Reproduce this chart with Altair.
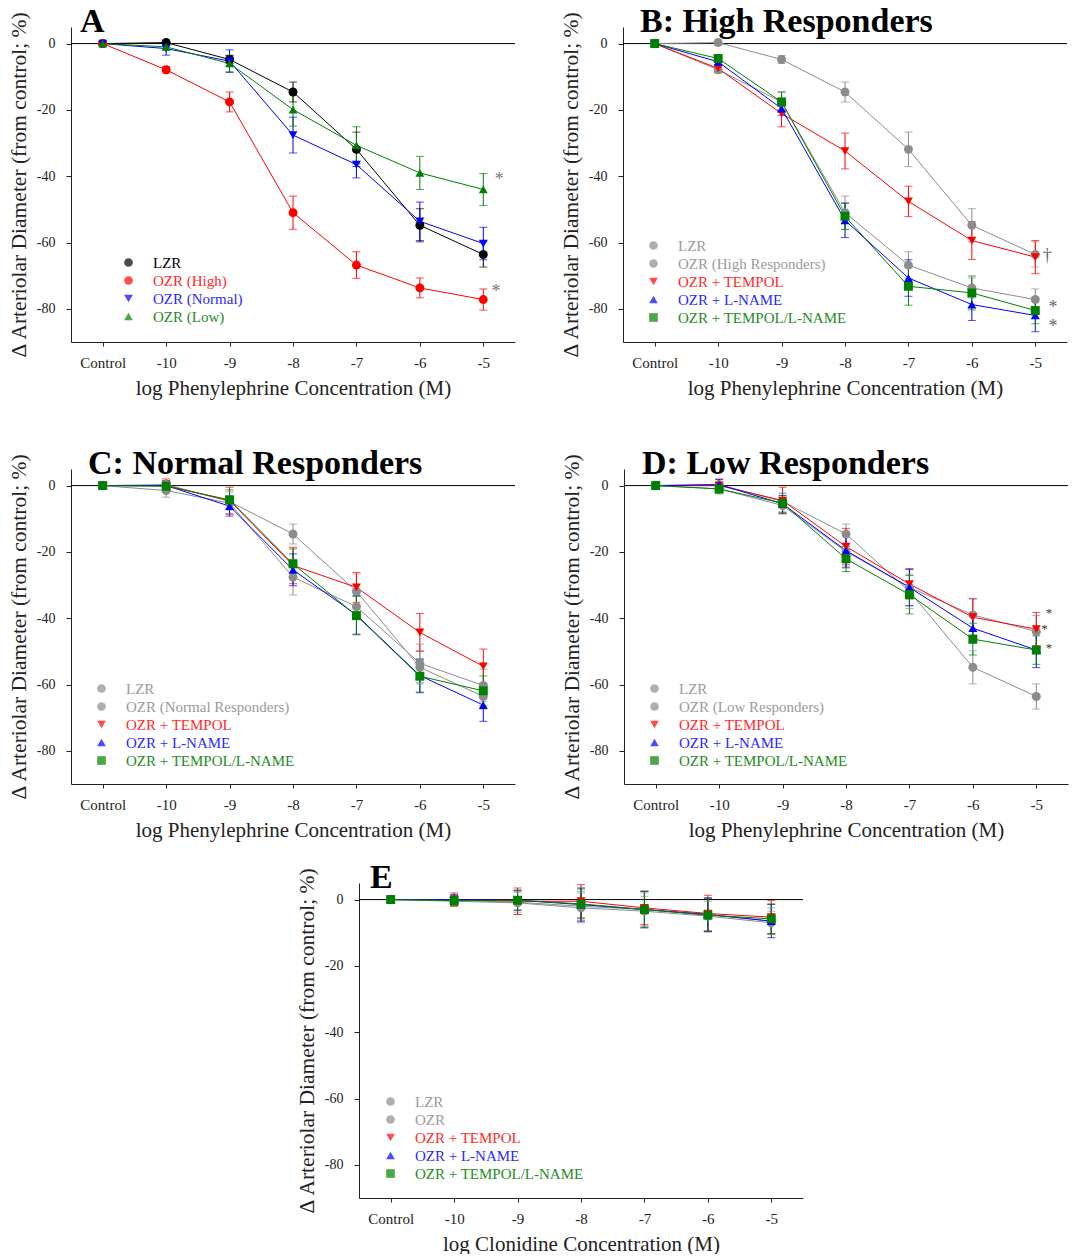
import altair as alt
import pandas as pd

# ---------------- data ----------------
X = [0, 1, 2, 3, 4, 5, 6]
X_LABELS = ["Control", "-10", "-9", "-8", "-7", "-6", "-5"]
Y_TICKS = [0, -20, -40, -60, -80]

# Panel A (also reused as reference curves in B-D)
LZR = [0, 0.3, -4.8, -14.6, -31.9, -54.8, -63.6]
LZR_ERR = [0.5, 0.8, 1.2, 3.0, 5.2, 5.0, 3.8]
OZR_HIGH = [0, -7.9, -17.6, -51.0, -66.8, -73.7, -77.2]
OZR_HIGH_ERR = [0.5, 1.0, 3.0, 5.0, 4.0, 3.0, 3.2]
OZR_NORMAL = [0, -1.5, -5.3, -27.6, -36.5, -53.6, -60.3]
OZR_NORMAL_ERR = [0.5, 2.0, 3.4, 5.4, 4.0, 5.8, 4.9]
OZR_LOW = [0, -1.0, -6.0, -19.9, -30.7, -39.0, -44.0]
OZR_LOW_ERR = [0.5, 1.0, 2.5, 5.0, 5.6, 5.0, 4.8]

# Panel B: high responders
B_TEMPOL = [0, -7.5, -21.1, -32.4, -47.6, -59.4, -64.4]
B_TEMPOL_ERR = [0.8, 1.2, 4.0, 5.4, 4.6, 5.7, 5.0]
B_LNAME = [0, -5.5, -19.6, -53.3, -70.7, -78.7, -82.0]
B_LNAME_ERR = [0.8, 1.0, 2.0, 5.2, 5.5, 4.8, 4.9]
B_TL = [0, -4.5, -17.6, -52.1, -73.2, -75.2, -80.5]
B_TL_ERR = [0.8, 1.0, 3.0, 4.0, 5.7, 5.1, 4.0]

# Panel C: normal responders
C_TEMPOL = [0, 0.0, -4.5, -24.1, -30.7, -44.3, -54.5]
C_TEMPOL_ERR = [0.8, 2.0, 4.0, 5.5, 4.5, 5.7, 5.2]
C_LNAME = [0, 0.0, -6.2, -25.4, -39.0, -57.3, -66.2]
C_LNAME_ERR = [0.8, 1.5, 3.0, 4.8, 5.8, 5.0, 4.9]
C_TL = [0, -0.2, -4.3, -23.6, -39.2, -57.5, -61.9]
C_TL_ERR = [0.8, 1.5, 3.0, 4.5, 5.8, 5.0, 4.5]

# Panel D: low responders
D_TEMPOL = [0, 0.0, -4.5, -18.4, -29.7, -39.7, -43.3]
D_TEMPOL_ERR = [0.8, 2.0, 4.0, 5.5, 4.5, 5.5, 5.0]
D_LNAME = [0, 0.3, -5.5, -19.6, -30.7, -43.0, -49.6]
D_LNAME_ERR = [0.8, 1.5, 2.5, 5.0, 5.5, 4.5, 5.3]
D_TL = [0, -1.0, -5.3, -22.1, -32.9, -46.3, -49.6]
D_TL_ERR = [0.8, 1.5, 3.0, 3.8, 5.8, 4.8, 4.3]

# Panel E: clonidine
E_LZR = [0, -0.5, -1.0, -2.5, -3.5, -5.0, -7.0]
E_LZR_ERR = [0.5, 1.5, 3.5, 4.5, 4.5, 4.5, 3.5]
E_OZR = [0, -0.3, -0.8, -2.0, -3.0, -4.5, -6.5]
E_OZR_ERR = [0.5, 1.5, 3.0, 4.5, 5.0, 5.0, 4.0]
E_TEMPOL = [0, 0.0, -0.5, -0.5, -2.5, -4.2, -5.3]
E_TEMPOL_ERR = [1.0, 2.0, 4.0, 5.0, 5.0, 5.5, 5.0]
E_LNAME = [0, 0.0, -0.2, -1.5, -3.0, -4.5, -6.5]
E_LNAME_ERR = [1.0, 1.5, 3.0, 5.0, 5.5, 5.0, 5.0]
E_TL = [0, -0.3, -0.2, -1.3, -3.0, -4.7, -5.8]
E_TL_ERR = [0.5, 1.5, 3.0, 4.5, 5.5, 5.0, 4.5]

# significance marks: (text, x, y)
A_MARKS = [("*", 6.25, -41.0), ("*", 6.2, -75.0)]
B_MARKS = [("\u2020", 6.19, -64.0), ("*", 6.28, -79.7), ("*", 6.28, -85.5)]
D_MARKS = [("*", 6.2, -38.3), ("*", 6.13, -43.3), ("*", 6.2, -49.0)]

# ---------------- styles ----------------
FONT = "Liberation Serif"
BLACK = "#000000"
GREY = "#8c8c8c"
GREY_TXT = "#9a9a9a"
RED = "#ff0000"
BLUE = "#0000ff"
GREEN = "#008000"
PW, PH = 444, 315


def panel(title, title_dx, series, xtitle, marks, mark_color, mark_size,
          leg_x, leg_y):
    rows = []
    for name, vals, errs, col, shp, tcol in series:
        for xi, v, e in zip(X, vals, errs):
            rows.append(dict(series=name, c=col, x=xi, y=v, lo=v - e, hi=v + e))
    df = pd.DataFrame(rows)
    names = [s[0] for s in series]
    colors = [s[3] for s in series]
    shapes = [s[4] for s in series]
    expr = "'black'"
    for n, tc in reversed(list(zip(names, [s[5] for s in series]))):
        expr = f"datum.label === '{n}' ? '{tc}' : ({expr})"

    xlab = "[" + ",".join(f"'{l}'" for l in X_LABELS) + "][datum.value]"
    xscale = alt.Scale(domain=[-0.5, 6.5], nice=False, zero=False)
    xaxis = alt.Axis(values=X, labelExpr=xlab, title=xtitle, grid=False,
                     tickSize=4, labelPadding=9, titlePadding=7,
                     labelFontSize=15, titleFontSize=21, labelFont=FONT,
                     titleFont=FONT, titleFontWeight="normal",
                     domainColor="#222", tickColor="#222",
                     labelColor="#222", titleColor="#222")
    yscale = alt.Scale(domain=[-90, 5], nice=False, zero=False)
    yaxis = alt.Axis(values=Y_TICKS, labelExpr="'' + datum.value",
                     title="\u0394 Arteriolar Diameter (from control; %)",
                     grid=False, tickSize=5, labelPadding=11, titlePadding=6,
                     labelFontSize=14, titleFontSize=21.5, labelFont=FONT,
                     titleFont=FONT, titleFontWeight="normal",
                     domainColor="#222", tickColor="#222",
                     labelColor="#222", titleColor="#222")

    def xe(f):
        return alt.X(f + ":Q", scale=xscale, axis=xaxis)

    def ye(f):
        return alt.Y(f + ":Q", scale=yscale, axis=yaxis)

    cscale = alt.Scale(domain=names, range=colors)
    sscale = alt.Scale(domain=names, range=shapes)
    leg = alt.Legend(orient="none", legendX=leg_x, legendY=leg_y, title=None,
                     labelFont=FONT, labelFontSize=15, labelColor={"expr": expr},
                     labelLimit=0, symbolSize=75, symbolStrokeWidth=0,
                     symbolOpacity=1, labelOffset=17, rowPadding=2, padding=0)
    craw = alt.Color("c:N", scale=None)

    base = alt.Chart(df)
    zero = alt.Chart(pd.DataFrame({"z": [0]})).mark_rule(color="black", strokeWidth=1).encode(
        y=ye("z"))
    lines = base.mark_line(strokeWidth=1).encode(
        x=xe("x"), y=ye("y"), color=craw, detail="series:N")
    bars = base.mark_rule(strokeWidth=1).encode(
        x=xe("x"), y=ye("lo"), y2="hi:Q", color=craw)
    cap_lo = base.mark_tick(orient="horizontal", size=8, thickness=1).encode(
        x=xe("x"), y=ye("lo"), color=craw)
    cap_hi = base.mark_tick(orient="horizontal", size=8, thickness=1).encode(
        x=xe("x"), y=ye("hi"), color=craw)
    pts = base.mark_point(filled=True, opacity=1, size=80, strokeWidth=0).encode(
        x=xe("x"), y=ye("y"),
        color=alt.Color("series:N", scale=cscale, legend=leg),
        shape=alt.Shape("series:N", scale=sscale, legend=leg))
    layers = [zero, lines, bars, cap_lo, cap_hi, pts]
    if marks:
        mdf = pd.DataFrame({"t": [m[0] for m in marks], "mx": [m[1] for m in marks],
                            "my": [m[2] for m in marks]})
        layers.append(alt.Chart(mdf).mark_text(font=FONT, fontSize=mark_size,
                                               color=mark_color, align="center",
                                               baseline="middle").encode(
            x=xe("mx"), y=ye("my"), text="t:N"))
    ttl = alt.Chart(pd.DataFrame({"t": [title]})).mark_text(
        font=FONT, fontSize=34, fontWeight="bold", color="black", align="left",
        baseline="alphabetic").encode(x=alt.value(title_dx), y=alt.value(5), text="t:N")
    layers.append(ttl)
    return alt.layer(*layers).properties(width=PW, height=PH)


A = panel("A", 9, [
    ("LZR", LZR, LZR_ERR, BLACK, "circle", BLACK),
    ("OZR (High)", OZR_HIGH, OZR_HIGH_ERR, RED, "circle", "#ff2a2a"),
    ("OZR (Normal)", OZR_NORMAL, OZR_NORMAL_ERR, BLUE, "triangle-down", "#2a2aff"),
    ("OZR (Low)", OZR_LOW, OZR_LOW_ERR, GREEN, "triangle-up", "#1e8c1e"),
], "log Phenylephrine Concentration (M)", A_MARKS, "#777777", 18, 50, 228)

B = panel("B: High Responders", 17, [
    ("LZR", LZR, LZR_ERR, GREY, "circle", GREY_TXT),
    ("OZR (High Responders)", OZR_HIGH, OZR_HIGH_ERR, GREY, "circle", GREY_TXT),
    ("OZR + TEMPOL", B_TEMPOL, B_TEMPOL_ERR, RED, "triangle-down", "#ff2a2a"),
    ("OZR + L-NAME", B_LNAME, B_LNAME_ERR, BLUE, "triangle-up", "#2a2aff"),
    ("OZR + TEMPOL/L-NAME", B_TL, B_TL_ERR, GREEN, "square", "#1e8c1e"),
], "log Phenylephrine Concentration (M)", B_MARKS, "#666666", 18, 23, 211)

C = panel("C: Normal Responders", 17, [
    ("LZR", LZR, LZR_ERR, GREY, "circle", GREY_TXT),
    ("OZR (Normal Responders)", OZR_NORMAL, OZR_NORMAL_ERR, GREY, "circle", GREY_TXT),
    ("OZR + TEMPOL", C_TEMPOL, C_TEMPOL_ERR, RED, "triangle-down", "#ff2a2a"),
    ("OZR + L-NAME", C_LNAME, C_LNAME_ERR, BLUE, "triangle-up", "#2a2aff"),
    ("OZR + TEMPOL/L-NAME", C_TL, C_TL_ERR, GREEN, "square", "#1e8c1e"),
], "log Phenylephrine Concentration (M)", [], "#666666", 14, 23, 212)

D = panel("D: Low Responders", 18, [
    ("LZR", LZR, LZR_ERR, GREY, "circle", GREY_TXT),
    ("OZR (Low Responders)", OZR_LOW, OZR_LOW_ERR, GREY, "circle", GREY_TXT),
    ("OZR + TEMPOL", D_TEMPOL, D_TEMPOL_ERR, RED, "triangle-down", "#ff2a2a"),
    ("OZR + L-NAME", D_LNAME, D_LNAME_ERR, BLUE, "triangle-up", "#2a2aff"),
    ("OZR + TEMPOL/L-NAME", D_TL, D_TL_ERR, GREEN, "square", "#1e8c1e"),
], "log Phenylephrine Concentration (M)", D_MARKS, "#333333", 13, 23, 212)

E = panel("E", 11, [
    ("LZR", E_LZR, E_LZR_ERR, GREY, "circle", GREY_TXT),
    ("OZR", E_OZR, E_OZR_ERR, GREY, "circle", GREY_TXT),
    ("OZR + TEMPOL", E_TEMPOL, E_TEMPOL_ERR, RED, "triangle-down", "#ff2a2a"),
    ("OZR + L-NAME", E_LNAME, E_LNAME_ERR, BLUE, "triangle-up", "#2a2aff"),
    ("OZR + TEMPOL/L-NAME", E_TL, E_TL_ERR, GREEN, "square", "#1e8c1e"),
], "log Clonidine Concentration (M)", [], "#666666", 14, 24, 211)

spacer = alt.Chart(pd.DataFrame({"v": [0]})).mark_point(opacity=0, size=1).encode(
    x=alt.value(5), y=alt.value(5)).properties(width=225, height=10)

RES = dict(color="independent", shape="independent", x="independent", y="independent")
row1 = alt.hconcat(A, B, spacing=44).resolve_scale(**RES)
row2 = alt.hconcat(C, D, spacing=45).resolve_scale(**RES)
row3 = alt.hconcat(spacer, E, spacing=0).resolve_scale(**RES)
top = alt.vconcat(row1, row2, spacing=49).resolve_scale(**RES)
chart = alt.vconcat(top, row3, spacing=21).resolve_scale(**RES).properties(
    padding={"left": 8, "top": 5, "right": 0, "bottom": 0}, background="white"
).configure_view(stroke="transparent", strokeWidth=0)

chart.save("out.html", embed_options={"renderer": "svg", "actions": False})
